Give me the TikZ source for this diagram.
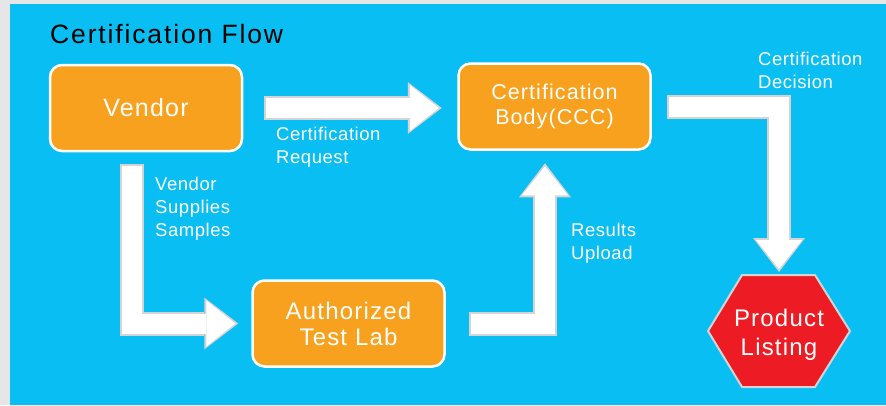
\documentclass[tikz,border=0pt]{standalone}
\usepackage{fontspec}
\setmainfont{Liberation Sans}[LetterSpace=5]
\newfontfamily\titlefont{Liberation Sans}[LetterSpace=7]
\newfontfamily\notefont{Liberation Sans}[LetterSpace=3]
\usetikzlibrary{arrows.meta}
\definecolor{skyblue}{RGB}{8,190,242}
\definecolor{boxorange}{RGB}{248,161,30}
\definecolor{listred}{RGB}{237,28,36}
\definecolor{rimgray}{RGB}{212,212,212}
\definecolor{pagegray}{RGB}{230,230,232}

\begin{document}
\begin{tikzpicture}[x=1pt, y=-1pt,
  box/.style={rectangle, rounded corners=12pt, draw=white, line width=2.5pt, fill=boxorange, text=white, minimum width=192pt, minimum height=86pt, align=center},
  note/.style={anchor=base west, inner sep=0pt, align=left, text=white, font=\notefont\fontsize{18.5}{23}\selectfont},
  flow/.style={line width=20pt, white, -{Triangle[width=46pt, length=29pt, line width=0pt]},
    preaction={draw=rimgray, line width=24pt, shorten >=-3pt, shorten <=-2pt, -{Triangle[width=52pt, length=34pt, line width=0pt]}}}]
	\useasboundingbox (0,0) rectangle (886,405);
	\fill[pagegray] (0,0) rectangle (886,405);
	\fill[skyblue] (10,4) rectangle (886,405);
	\node[anchor=base west, inner sep=0pt, font=\titlefont\fontsize{26.5}{30}\selectfont] (title) at (50,43) {Certification Flow};
	\node[box, font=\fontsize{25}{28}\selectfont] (vendor) at (146,108) {Vendor};
	\node[box, font=\fontsize{21.5}{25}\selectfont] (body) at (554.5,106.5) {Certification\\Body(CCC)};
	\node[box, font=\fontsize{24}{26}\selectfont] (lab) at (348.5,323.5) {Authorized\\Test Lab};
	\coordinate (hex) at (779,331);
	\filldraw[fill=listred, draw=rimgray, line width=2pt] (hex) ++(-71,0) -- ++(34,-56) -- ++(73,0) -- ++(35,56) -- ++(-35,56) -- ++(-73,0) -- cycle;
	\node[text=white, align=center, font=\fontsize{24}{29}\selectfont] (listing) at ([yshift=-4pt]hex) {Product\\Listing};
	\draw[flow] ([xshift=23pt]vendor.east) -- ([xshift=-18.5pt]vendor.east -| body.west);
	\draw[flow] ([xshift=-14.5pt,yshift=-14pt]vendor.south) |- ([xshift=-16pt]lab.west);
	\draw[flow] ([xshift=25pt]lab.east) -| ([xshift=-9.5pt,yshift=-15.5pt]body.south);
	\draw[flow] ([xshift=17.5pt]body.east) -| ([yshift=62pt]hex);
	\node[note] (request) at (276,163) {Certification\\Request};
	\node[note] (samples) at (155,236) {Vendor\\Supplies\\Samples};
	\node[note] (upload) at (571,259) {Results\\Upload};
	\node[note] (decision) at (758,88) {Certification\\Decision};
\end{tikzpicture}
\end{document}
